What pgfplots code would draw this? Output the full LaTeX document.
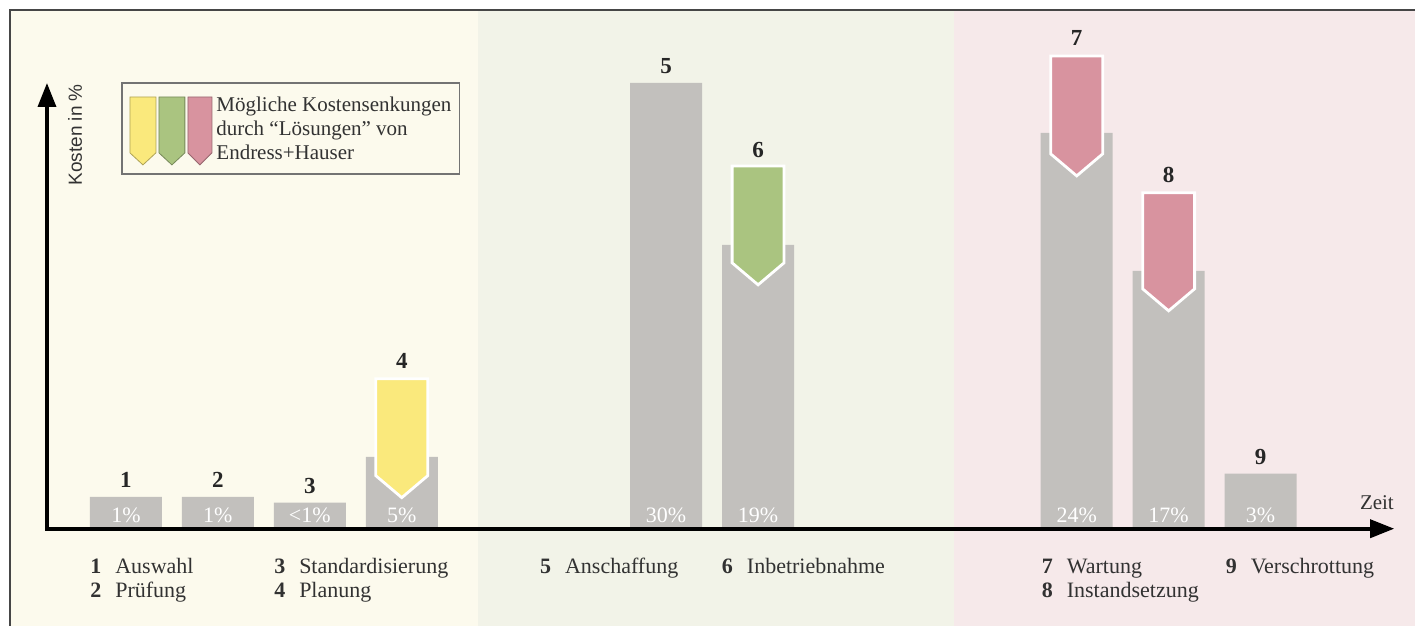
\documentclass[border=0pt]{standalone}
\usepackage{fontspec}
\setmainfont{Liberation Serif}
\newfontfamily\sansf{Liberation Sans}
\usepackage{pgfplots}
\usepackage{pgfplotstable}
\pgfplotsset{compat=1.18}
\usetikzlibrary{arrows.meta}
\definecolor{bgY}{RGB}{252,250,237}
\definecolor{bgG}{RGB}{242,243,232}
\definecolor{bgP}{RGB}{246,233,234}
\definecolor{barc}{RGB}{194,192,189}
\definecolor{arY}{RGB}{250,233,124}
\definecolor{arG}{RGB}{170,196,128}
\definecolor{arP}{RGB}{216,147,159}
\definecolor{txt}{RGB}{50,50,50}
\definecolor{framec}{RGB}{70,70,70}

% stage position, drawn bar height (scaled so that 30% = 30)
\pgfplotstableread{
x      y
1      2.15
2      2.15
3      1.75
4      4.84
6.875  30.0
7.875  19.1
11.34  26.63
12.34  17.35
13.34  3.70
}\bars

\newcommand{\fs}[1]{\fontsize{#1}{#1}\selectfont}
\newcommand{\lab}[2]{\makebox[12.5pt][l]{\textbf{#1}}#2}

\begin{document}
\begin{tikzpicture}
\begin{axis}[at={(0,0)},anchor=south west,scale only axis,
  width=708pt,height=313pt,
  xmin=-0.3696,xmax=15.0217,ymin=-6.523,ymax=35.575,
  hide axis,clip=false]
% background zones
\fill[white] (axis cs:-0.3696,-6.523) rectangle (axis cs:15.0217,35.575);
\fill[bgY] (axis cs:-0.2609,-6.523) rectangle (axis cs:4.826,34.90);
\fill[bgG] (axis cs:4.826,-6.523) rectangle (axis cs:10.011,34.90);
\fill[bgP] (axis cs:10.011,-6.523) rectangle (axis cs:15.0217,34.90);
\draw[framec, line width=0.8pt] (axis cs:-0.2609,-6.523) -- (axis cs:-0.2609,34.90) -- (axis cs:15.0217,34.90);

% bars
\addplot[ybar, bar width=0.7826, fill=barc, draw=none] table[x=x,y=y] {\bars};

% cost reduction arrows
\addplot[fill=arY, draw=white, line width=1.4pt] coordinates {(3.7174,10.09) (4.2826,10.09) (4.2826,3.57) (4,2.09) (3.7174,3.57)} --cycle;
\addplot[fill=arG, draw=white, line width=1.4pt] coordinates {(7.5924,24.41) (8.1576,24.41) (8.1576,17.89) (7.875,16.41) (7.5924,17.89)} --cycle;
\addplot[fill=arP, draw=white, line width=1.4pt] coordinates {(11.0574,31.81) (11.6226,31.81) (11.6226,25.22) (11.34,23.74) (11.0574,25.22)} --cycle;
\addplot[fill=arP, draw=white, line width=1.4pt] coordinates {(12.0574,22.60) (12.6226,22.60) (12.6226,16.14) (12.34,14.66) (12.0574,16.14)} --cycle;

% axes
\draw[black, line width=1.8pt, -{Triangle[length=12pt,width=9pt]}] (axis cs:0.1413,-0.05) -- (axis cs:0.1413,29.99);
\draw[black, line width=1.8pt, -{Triangle[length=12pt,width=9pt]}] (axis cs:0.12,0) -- (axis cs:14.793,0);
\node[anchor=base east, text=txt, font=\fs{10.5}, inner sep=0pt] at (axis cs:14.793,1.28) {Zeit};
\node[rotate=90, text=txt, font=\sansf\fs{9.5}, inner sep=0pt] at (axis cs:0.4457,26.5) {Kosten in \%};

% numbers above bars
\begin{scope}[every node/.style={anchor=base, inner sep=0pt, font=\bfseries\fs{11.5}, text=black!85}]
\node at (axis cs:1,2.75) {1};
\node at (axis cs:2,2.75) {2};
\node at (axis cs:3,2.35) {3};
\node at (axis cs:4,10.75) {4};
\node at (axis cs:6.875,30.6) {5};
\node at (axis cs:7.875,25.0) {6};
\node at (axis cs:11.34,32.5) {7};
\node at (axis cs:12.34,23.3) {8};
\node at (axis cs:13.34,4.3) {9};
\end{scope}

% percentages inside bars
\begin{scope}[every node/.style={anchor=base, inner sep=0pt, font=\fs{11}, text=white}]
\node at (axis cs:1,0.4) {1\%};
\node at (axis cs:2,0.4) {1\%};
\node at (axis cs:3,0.4) {<1\%};
\node at (axis cs:4,0.4) {5\%};
\node at (axis cs:6.875,0.4) {30\%};
\node at (axis cs:7.875,0.4) {19\%};
\node at (axis cs:11.34,0.4) {24\%};
\node at (axis cs:12.34,0.4) {17\%};
\node at (axis cs:13.34,0.4) {3\%};
\end{scope}

% stage names
\begin{scope}[every node/.style={anchor=base west, inner sep=0pt, font=\fs{11}, text=txt}]
\node at (axis cs:0.609,-3.03) {\lab{1}{Auswahl}};
\node at (axis cs:0.609,-4.64) {\lab{2}{Prüfung}};
\node at (axis cs:2.609,-3.03) {\lab{3}{Standardisierung}};
\node at (axis cs:2.609,-4.64) {\lab{4}{Planung}};
\node at (axis cs:5.5,-3.03) {\lab{5}{Anschaffung}};
\node at (axis cs:7.478,-3.03) {\lab{6}{Inbetriebnahme}};
\node at (axis cs:10.957,-3.03) {\lab{7}{Wartung}};
\node at (axis cs:10.957,-4.64) {\lab{8}{Instandsetzung}};
\node at (axis cs:12.957,-3.03) {\lab{9}{Verschrottung}};
\end{scope}

% legend box
\draw[black!55, line width=0.7pt, fill=bgY] (axis cs:0.9565,23.87) rectangle (axis cs:4.630,29.99);
\addplot[fill=arY, draw=arY!70!black, line width=0.4pt] coordinates {(1.0435,29.05) (1.326,29.05) (1.326,25.29) (1.185,24.48) (1.0435,25.29)} --cycle;
\addplot[fill=arG, draw=arG!70!black, line width=0.4pt] coordinates {(1.3587,29.05) (1.641,29.05) (1.641,25.29) (1.500,24.48) (1.3587,25.29)} --cycle;
\addplot[fill=arP, draw=arP!70!black, line width=0.4pt] coordinates {(1.674,29.05) (1.935,29.05) (1.935,25.29) (1.8045,24.48) (1.674,25.29)} --cycle;
\begin{scope}[every node/.style={anchor=base west, inner sep=0pt, font=\fs{10.5}, text=txt}]
\node at (axis cs:1.98,28.04) {Mögliche Kostensenkungen};
\node at (axis cs:1.98,26.43) {durch ``Lösungen'' von};
\node at (axis cs:1.98,24.82) {Endress+Hauser};
\end{scope}
\end{axis}
\end{tikzpicture}
\end{document}
